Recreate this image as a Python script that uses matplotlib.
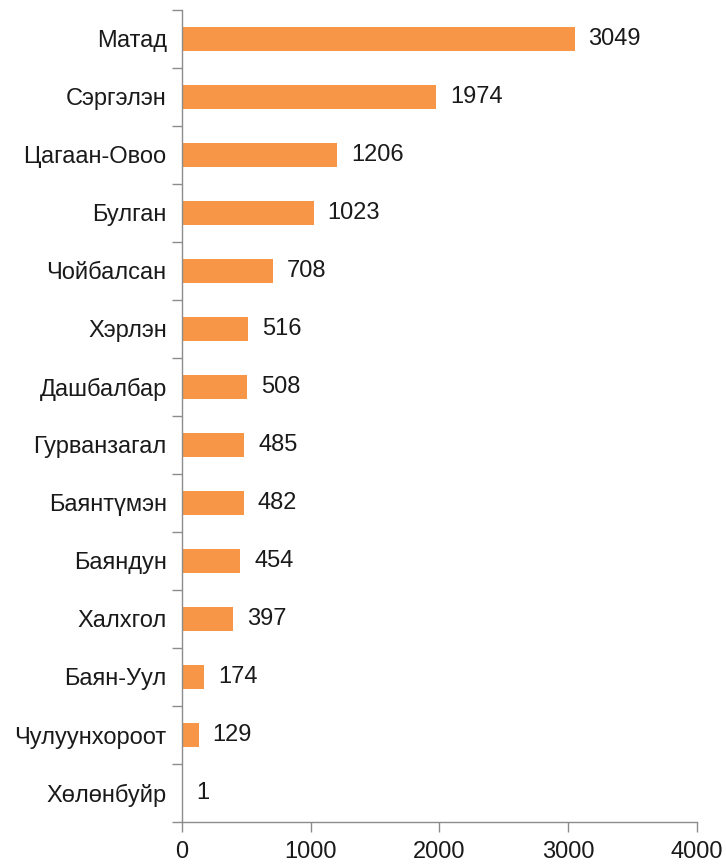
import matplotlib.pyplot as plt
import numpy as np
from matplotlib.ticker import FixedLocator

plt.rcParams['font.family'] = ['Liberation Sans', 'DejaVu Sans']

names = ['Матад', 'Сэргэлэн', 'Цагаан-Овоо', 'Булган', 'Чойбалсан', 'Хэрлэн',
         'Дашбалбар', 'Гурванзагал', 'Баянтүмэн', 'Баяндун', 'Халхгол',
         'Баян-Уул', 'Чулуунхороот', 'Хөлөнбуйр']
values = [3049, 1974, 1206, 1023, 708, 516, 508, 485, 482, 454, 397, 174, 129, 1]
xticks = [0, 1000, 2000, 3000, 4000]

fs = 17

fig = plt.figure(figsize=(7.26, 8.66), dpi=100)
ax = fig.add_axes([0.2507, 0.0508, 0.7093, 0.9377])

y = np.arange(len(names))
ax.barh(y, values, height=0.42, color='#F79646')
for yi, v in zip(y, values):
    ax.annotate(str(v), (v, yi), xytext=(10, 0), textcoords='offset points',
                va='center', ha='left', fontsize=fs, color='#1a1a1a')

ax.set_ylim(len(names) - 0.5, -0.5)
ax.set_xlim(0, 4000)
ax.set_yticks(y)
ax.set_yticklabels(names)
ax.yaxis.set_minor_locator(FixedLocator(np.arange(-0.5, len(names), 1.0)))
ax.set_xticks(xticks)

ax.tick_params(axis='y', which='major', length=0, pad=11, labelsize=fs, labelcolor='#1a1a1a')
ax.tick_params(axis='y', which='minor', length=7, width=1, color='#8c8c8c')
ax.tick_params(axis='x', length=7, width=1, color='#8c8c8c', pad=7, labelsize=fs, labelcolor='#1a1a1a')

for s in ['top', 'right']:
    ax.spines[s].set_visible(False)
for s in ['left', 'bottom']:
    ax.spines[s].set_color('#8c8c8c')
    ax.spines[s].set_linewidth(1)

fig.savefig('out.png', dpi=100)
